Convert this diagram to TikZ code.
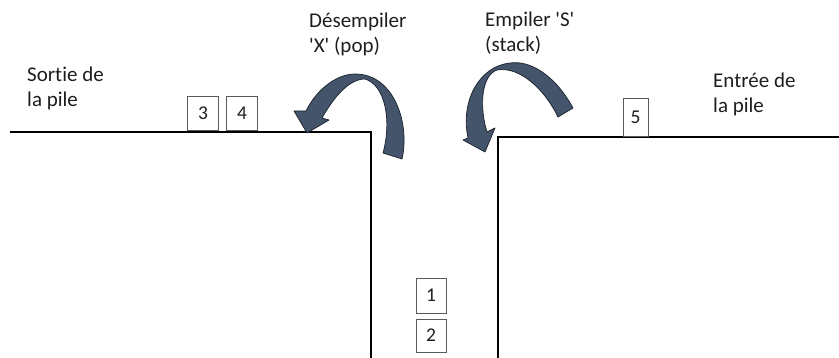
\documentclass[tikz,border=0pt]{standalone}
\usepackage{fontspec}
\setmainfont{Carlito}[Ligatures={NoCommon}]
\definecolor{arrowfill}{RGB}{68,84,106}
\definecolor{arrowline}{RGB}{25,32,45}
\definecolor{boxline}{RGB}{90,90,90}
\definecolor{txt}{RGB}{30,30,30}
\begin{document}
\begin{tikzpicture}[x=1pt,y=-1pt,
  wall/.style={line width=2.4pt,line join=miter},
  numbox/.style={draw=boxline,line width=0.9pt,inner sep=0pt,text=txt,font=\fontsize{19.5}{21}\selectfont},
  lbl/.style={anchor=base west,inner sep=0pt,align=left,text=txt,font=\fontsize{21}{25}\selectfont},
  bendarrow/.style={fill=arrowfill,draw=arrowline,line width=0.7pt,line join=round}]
\useasboundingbox (0,0) rectangle (839,358);
% walls
\draw[wall] (10,132) -- (371,132) -- (371,358);
\draw[wall] (839,137) -- (498,137) -- (498,358);
% labels (anchor = baseline of last line)
\node[lbl] (sortie) at (27,107) {Sortie de\\la pile};
\node[lbl] (entree) at (713,113) {Entrée de\\la pile};
\node[lbl] (pop) at (309,53) {Désempiler\\\textquotesingle X\textquotesingle{} (pop)};
\node[lbl] (push) at (485,52) {Empiler \textquotesingle S\textquotesingle\\(stack)};
% boxes
\node[numbox,minimum width=31pt,minimum height=34pt] (b3) at (203,113.5) {3};
\node[numbox,minimum width=31pt,minimum height=34pt] (b4) at (242,113.5) {4};
\node[numbox,minimum width=25pt,minimum height=38pt] (b5) at (635.5,117.5) {5};
\node[numbox,minimum width=30pt,minimum height=35pt] (b1) at (431,295.5) {1};
\node[numbox,minimum width=30pt,minimum height=33pt] (b2) at (431,335.5) {2};
% pop arrow
\draw[bendarrow] (294,111) -- (307,133) -- (329,120) -- (322,118)
  .. controls (335,95) and (350,79) .. (365,79)
  .. controls (385,85) and (392,120) .. (383,153)
  -- (402,159)
  .. controls (410,125) and (395,74) .. (355,74)
  .. controls (335,74) and (315,92) .. (306,111) -- cycle;
% push arrow
\draw[bendarrow] (463,140) -- (485,152) -- (495,128) -- (487,132)
  .. controls (480,110) and (480,76) .. (497,70)
  .. controls (520,66) and (545,90) .. (558,117)
  -- (573,108)
  .. controls (555,75) and (530,60) .. (510,63)
  .. controls (480,66) and (460,100) .. (468,138) -- cycle;
\end{tikzpicture}
\end{document}
